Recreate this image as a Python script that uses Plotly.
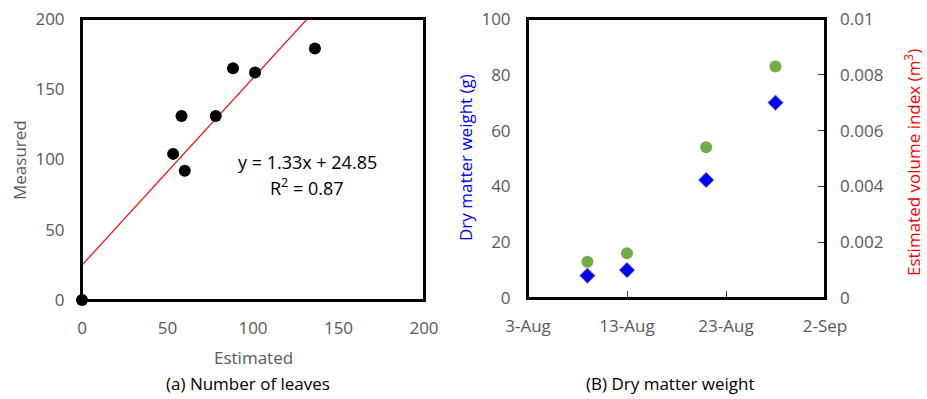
import plotly.graph_objects as go

# ---- data ----
est_leaves = [0, 53.3, 58.2, 60.1, 78.2, 88.3, 101.2, 136.2]
meas_leaves = [0, 104, 131, 92, 131, 165, 162, 179]
slope = 1.33
intercept = 24.85
r2 = 0.87
fit_x = [0, 200]

dates = ["2024-08-09", "2024-08-13", "2024-08-21", "2024-08-28"]
dry_weight = [8, 10, 42.3, 70]
volume_index = [0.0013, 0.0016, 0.0054, 0.0083]
date_ticks = ["2024-08-03", "2024-08-13", "2024-08-23", "2024-09-02"]
date_ticktext = ["3-Aug", "13-Aug", "23-Aug", "2-Sep"]

W, H = 927, 399
FONT = "Open Sans"
GREY = "#595959"

def px_x(p):
    return p / W

def px_y(p):
    return 1 - p / H

fig = go.Figure()

# left panel
fig.add_trace(go.Scatter(
    x=fit_x, y=[slope * v + intercept for v in fit_x], mode="lines",
    line=dict(color="#FF0000", width=1.2), xaxis="x", yaxis="y", showlegend=False))
fig.add_trace(go.Scatter(
    x=est_leaves, y=meas_leaves, mode="markers",
    marker=dict(color="black", size=12), cliponaxis=False,
    xaxis="x", yaxis="y", showlegend=False))

# right panel
fig.add_trace(go.Scatter(
    x=dates, y=volume_index, mode="markers",
    marker=dict(color="#70AD47", size=12), xaxis="x2", yaxis="y3", showlegend=False))
fig.add_trace(go.Scatter(
    x=dates, y=dry_weight, mode="markers",
    marker=dict(color="#0000FF", size=12, symbol="diamond", line=dict(color="#A6A6A6", width=1)),
    xaxis="x2", yaxis="y2", showlegend=False))

tickfont = dict(family=FONT, size=17, color=GREY)
common = dict(showgrid=False, zeroline=False, automargin=False, tickfont=tickfont,
              ticklabeloverflow="allow")

fig.update_layout(
    width=W, height=H, margin=dict(l=0, r=0, t=0, b=0),
    paper_bgcolor="white", plot_bgcolor="white",
    font=dict(family=FONT),
    xaxis=dict(domain=[px_x(82), px_x(424)], range=[0, 200], dtick=50,
               showline=True, linecolor="black", linewidth=2,
               mirror=True, ticks="", ticklabelstandoff=12, anchor="y", **common),
    yaxis=dict(domain=[px_y(300), px_y(19)], range=[0, 200], dtick=50,
               showline=True, linecolor="black", linewidth=2,
               mirror=True, ticks="", ticklabelstandoff=12, anchor="x", **common),
    xaxis2=dict(domain=[px_x(528), px_x(825)], type="date",
                range=[date_ticks[0], date_ticks[-1]],
                tickvals=date_ticks, ticktext=date_ticktext,
                showline=True, linecolor="black", linewidth=2,
                mirror=True, ticks="inside", ticklen=7, tickcolor="#404040", tickwidth=1,
                ticklabelstandoff=12, anchor="y2", **common),
    yaxis2=dict(domain=[px_y(298), px_y(19)], range=[0, 100], dtick=20,
                showline=True, linecolor="black", linewidth=2,
                mirror=True, ticks="", ticklabelstandoff=12, anchor="x2", **common),
    yaxis3=dict(domain=[px_y(298), px_y(19)], range=[0, 0.01], dtick=0.002,
                overlaying="y2", side="right", anchor="x2", showline=False,
                ticks="inside", ticklen=7, tickcolor="#404040", tickwidth=1,
                ticklabelstandoff=14, **common),
)

# explicit frames around both plot areas
for xr, yr in (("x domain", "y domain"), ("x2 domain", "y2 domain")):
    fig.add_shape(type="rect", xref=xr, yref=yr, x0=0, x1=1, y0=0, y1=1,
                  line=dict(color="black", width=2), fillcolor="rgba(0,0,0,0)", layer="above")

def ann(text, x, y, size=17, color=GREY, angle=0):
    fig.add_annotation(text=text, x=px_x(x), y=px_y(y), xref="paper", yref="paper",
                       showarrow=False, textangle=angle,
                       font=dict(family=FONT, size=size, color=color),
                       xanchor="center", yanchor="middle")

ann("Measured", 19, 160, angle=-90)
ann("Estimated", 253, 357)
ann("(a) Number of leaves", 248, 383, size=17, color="black")
ann("Dry matter weight (g)", 465, 158, color="#0000FF", angle=-90)
ann("Estimated volume index (m<sup>3</sup>)", 912, 163, color="#FF0000", angle=-90)
ann("(B) Dry matter weight", 670, 383, size=17, color="black")
ann("y = %.2fx + %.2f" % (slope, intercept), 307, 162, size=18, color="black")
ann("R<sup>2</sup> = %.2f" % r2, 307, 187, size=18, color="black")

fig.write_html("out.html", config={"displayModeBar": False},
               post_script="document.body.style.margin='0';document.body.style.overflow='hidden';")
